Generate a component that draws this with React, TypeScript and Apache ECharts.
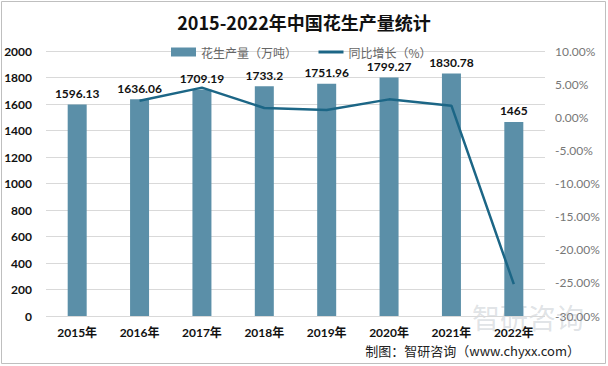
import React, { useEffect, useRef } from "react";
import * as echarts from "echarts";

const categories = ["2015年", "2016年", "2017年", "2018年", "2019年", "2020年", "2021年", "2022年"];
const production = [1596.13, 1636.06, 1709.19, 1733.2, 1751.96, 1799.27, 1830.78, 1465];
const growth: (number | null)[] = [null, 2.5, 4.47, 1.4, 1.08, 2.7, 1.75, -25.2];
const leftTicks = { min: 0, max: 2000, interval: 200 };
const rightTicks = { min: -30, max: 10, interval: 5 };

export default function App() {
  const ref = useRef<HTMLDivElement>(null);
  useEffect(() => {
    const chart = echarts.init(ref.current!, null, { renderer: "svg" });
    const numFont = "Lato, 'Noto Sans CJK SC', sans-serif";
    chart.setOption({
      animation: false,
      backgroundColor: "#ffffff",
      title: {
        text: "2015-2022年中国花生产量统计",
        left: "center",
        top: 8,
        textStyle: { fontSize: 18, fontWeight: "bold", color: "#111", fontFamily: "'Noto Sans CJK SC', sans-serif" },
      },
      legend: {
        top: 41,
        left: 166,
        itemGap: 20,
        itemWidth: 25,
        itemHeight: 9,
        textStyle: { fontSize: 12, color: "#666", fontFamily: "'Noto Sans CJK SC', sans-serif" },
        data: [
          { name: "花生产量（万吨）", icon: "rect" },
          { name: "同比增长（%）", itemStyle: { opacity: 0 }, lineStyle: { width: 3, color: "#1c6686" } },
        ],
      },
      grid: { left: 46, right: 63, top: 51, bottom: 50 },
      xAxis: {
        type: "category",
        data: categories,
        axisLine: { show: false },
        axisTick: { show: false },
        axisLabel: { fontSize: 12, fontWeight: "bold", color: "#111", margin: 10, fontFamily: numFont },
      },
      yAxis: [
        {
          type: "value",
          ...leftTicks,
          axisLine: { show: false },
          axisTick: { show: false },
          splitLine: { lineStyle: { color: "#d9d9d9", width: 1 } },
          axisLabel: {
            fontSize: 12,
            fontWeight: "bold",
            color: "#111",
            margin: 14,
            fontFamily: numFont,
            formatter: (v: number) => String(v),
          },
        },
        {
          type: "value",
          ...rightTicks,
          axisLine: { show: false },
          axisTick: { show: false },
          splitLine: { show: false },
          axisLabel: {
            fontSize: 12,
            color: "#777",
            margin: 10,
            fontFamily: numFont,
            formatter: (v: number) => v.toFixed(2) + "%",
          },
        },
      ],
      series: [
        {
          name: "花生产量（万吨）",
          type: "bar",
          data: production,
          barWidth: 19,
          itemStyle: { color: "#5b8fa8" },
          label: {
            show: true,
            position: "top",
            distance: 5,
            fontSize: 12,
            fontWeight: "bold",
            color: "#111",
            fontFamily: numFont,
          },
        },
        {
          name: "同比增长（%）",
          type: "line",
          yAxisIndex: 1,
          data: growth,
          showSymbol: false,
          symbol: "none",
          lineStyle: { color: "#1c6686", width: 2.5 },
          itemStyle: { color: "#1c6686" },
        },
      ],
      graphic: [
        {
          type: "rect",
          shape: { x: 1.5, y: 1.5, width: 604, height: 362 },
          style: { fill: "none", stroke: "#bfbfbf", lineWidth: 1 },
          silent: true,
        },
        {
          type: "text",
          left: 472,
          top: 303,
          style: { text: "智研咨询", fontSize: 28, fill: "rgba(150,160,170,0.3)", fontFamily: "'Noto Sans CJK SC', sans-serif" },
          silent: true,
        },
        {
          type: "text",
          right: 28,
          top: 344,
          style: { text: "制图：智研咨询（www.chyxx.com）", fontSize: 13, fill: "#222", fontFamily: "'Noto Sans CJK SC', sans-serif" },
          silent: true,
        },
      ],
    });
    return () => chart.dispose();
  }, []);
  return <div ref={ref} style={{ position: "fixed", left: 0, top: 0, width: 608, height: 366 }} />;
}
